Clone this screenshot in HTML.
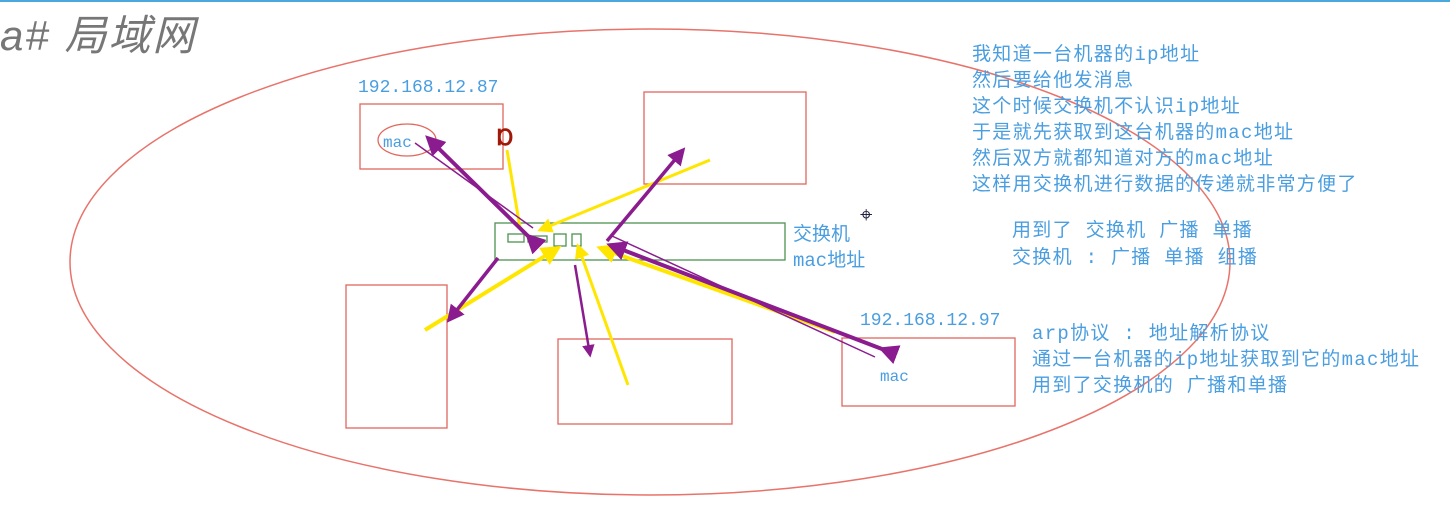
<!DOCTYPE html>
<html><head><meta charset="utf-8"><style>
body{margin:0;background:#fff;width:1450px;height:514px;overflow:hidden}
svg text{font-family:"Liberation Mono","Noto Sans CJK SC",monospace;fill:#4a9ee0;font-size:18px}
.n text{font-size:19px;letter-spacing:1.3px}
</style></head><body>
<svg width="1450" height="514">
<defs>
<marker id="pa" markerWidth="5" markerHeight="5" refX="4" refY="2.5" orient="auto"><path d="M0,0 L5,2.5 L0,5 z" fill="#8b1c8f"/></marker>
<marker id="ya" markerWidth="5" markerHeight="5" refX="4" refY="2.5" orient="auto"><path d="M0,0 L5,2.5 L0,5 z" fill="#ffe600"/></marker>
</defs>
<line x1="0" y1="1" x2="1450" y2="1" stroke="#4aa8dc" stroke-width="2"/>
<text x="0" y="50" style="font-family:'Liberation Sans','Noto Sans CJK SC',sans-serif;font-size:42px;font-style:italic;fill:#777;letter-spacing:2px">a# 局域网</text>
<ellipse cx="650" cy="262" rx="580" ry="233" fill="none" stroke="#e8736a" stroke-width="1.5"/>
<g fill="none" stroke="#e0675e" stroke-width="1.3">
<rect x="360" y="104" width="143" height="65"/>
<rect x="644" y="92" width="162" height="92"/>
<rect x="346" y="285" width="101" height="143"/>
<rect x="558" y="339" width="174" height="85"/>
<rect x="842" y="338" width="173" height="68"/>
<ellipse cx="407" cy="140" rx="29" ry="16"/>
</g>
<g fill="none" stroke="#4f9150" stroke-width="1.3">
<rect x="495" y="223" width="290" height="37"/>
<rect x="508" y="234" width="16" height="8"/>
<rect x="528" y="236" width="19" height="6"/>
<rect x="554" y="234" width="12" height="12"/>
<rect x="572" y="234" width="9" height="12"/>
</g>
<text x="358" y="92">192.168.12.87</text>
<text x="383" y="147" style="font-size:16px">mac</text>
<text x="860" y="325">192.168.12.97</text>
<text x="880" y="381" style="font-size:16px">mac</text>
<text x="793" y="240" style="font-size:19px">交换机</text>
<text x="793" y="266" style="font-size:19px">mac地址</text>
<text x="497" y="145" style="fill:#a01808;font-weight:bold;font-size:22px">Ɒ</text>
<g stroke="#ffe600" fill="none">
<line x1="507" y1="150" x2="520" y2="228" stroke-width="3"/>
<line x1="710" y1="160" x2="540" y2="230" stroke-width="3" marker-end="url(#ya)"/>
<line x1="425" y1="330" x2="558" y2="248" stroke-width="4" marker-end="url(#ya)"/>
<line x1="628" y1="385" x2="578" y2="246" stroke-width="3" marker-end="url(#ya)"/>
<line x1="835" y1="332" x2="600" y2="248" stroke-width="4" marker-end="url(#ya)"/>
</g>
<g stroke="#8b1c8f" fill="none">
<line x1="528" y1="236" x2="428" y2="138" stroke-width="4" marker-end="url(#pa)" marker-start="url(#pa)"/>
<line x1="415" y1="143" x2="533" y2="228" stroke-width="1.5"/>
<line x1="607" y1="241" x2="683" y2="150" stroke-width="3.5" marker-end="url(#pa)"/>
<line x1="498" y1="258" x2="449" y2="320" stroke-width="3.5" marker-end="url(#pa)"/>
<line x1="575" y1="265" x2="590" y2="355" stroke-width="2.5" marker-end="url(#pa)"/>
<line x1="882" y1="349" x2="610" y2="245" stroke-width="4" marker-end="url(#pa)" marker-start="url(#pa)"/>
<line x1="612" y1="236" x2="875" y2="357" stroke-width="1.5"/>
</g>
<text x="860" y="222" style="fill:#224;font-size:22px">⌖</text>
<g class="n">
<text x="972" y="60">我知道一台机器的ip地址</text>
<text x="972" y="86">然后要给他发消息</text>
<text x="972" y="112">这个时候交换机不认识ip地址</text>
<text x="972" y="138">于是就先获取到这台机器的mac地址</text>
<text x="972" y="164">然后双方就都知道对方的mac地址</text>
<text x="972" y="190">这样用交换机进行数据的传递就非常方便了</text>
<text x="1012" y="236">用到了 交换机 广播  单播</text>
<text x="1012" y="263">交换机 : 广播 单播 组播</text>
<text x="1032" y="339">arp协议 : 地址解析协议</text>
<text x="1032" y="365">通过一台机器的ip地址获取到它的mac地址</text>
<text x="1032" y="391">用到了交换机的 广播和单播</text>
</g>
</svg>
</body></html>
